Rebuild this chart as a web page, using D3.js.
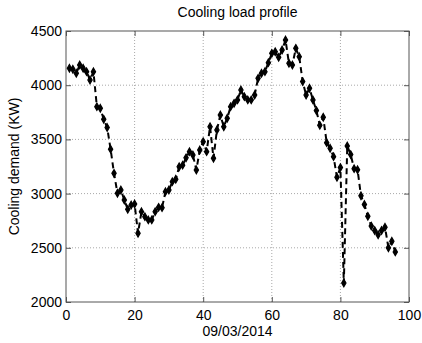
<!DOCTYPE html>
<html>
<head>
<meta charset="utf-8">
<script src="https://cdn.jsdelivr.net/npm/d3@7/dist/d3.min.js"></script>
<style>
  html, body { margin: 0; padding: 0; background: #fff; }
  svg { display: block; font-family: "Liberation Sans", Arial, sans-serif; }
</style>
</head>
<body>
<div id="chart"></div>
<script>
// Quarter-hour cooling demand samples (kW) for one day, index 1..96
const sampleIndex = d3.range(1, 97);
const coolingDemand = [
  4156, 4147, 4110, 4186, 4156, 4125, 4048, 4125, 3802, 3787,
  3685, 3610, 3410, 3187, 3003, 3033, 2941, 2855, 2895, 2904,
  2634, 2833, 2787, 2757, 2757, 2833, 2873, 2870, 3018, 3033,
  3110, 3132, 3248, 3262, 3330, 3387, 3356, 3218, 3402, 3479,
  3387, 3617, 3326, 3587, 3725, 3617, 3695, 3802, 3833, 3864,
  3956, 3894, 3864, 3864, 3910, 4063, 4110, 4125, 4208, 4294,
  4309, 4257, 4325, 4417, 4202, 4186, 4340, 4263, 4033, 3910,
  3972, 3864, 3766, 3630, 3704, 3470, 3418, 3341, 3150, 3240,
  2175, 3440, 3360, 3230, 3220, 2980, 2900, 2790, 2700, 2660,
  2620, 2660, 2690, 2500, 2560, 2462
];
const xTicks = [0, 20, 40, 60, 80, 100];
const yTicks = [2000, 2500, 3000, 3500, 4000, 4500];
const titleText = "Cooling load profile";
const xLabel = "09/03/2014";
const yLabel = "Cooling demand (KW)";

const W = 422, H = 343;
const m = { left: 66, right: 13, top: 31, bottom: 41 };
const iw = W - m.left - m.right, ih = H - m.top - m.bottom;

const svg = d3.select("#chart").append("svg").attr("width", W).attr("height", H);
const g = svg.append("g").attr("transform", `translate(${m.left},${m.top})`);

const x = d3.scaleLinear().domain([0, 100]).range([0, iw]);
const y = d3.scaleLinear().domain([2000, 4500]).range([ih, 0]);

// dotted grid
g.append("g").selectAll("line").data(xTicks.slice(1, -1)).join("line")
  .attr("x1", d => x(d)).attr("x2", d => x(d)).attr("y1", 0).attr("y2", ih)
  .attr("stroke", "#a8a8a8").attr("stroke-width", 1).attr("stroke-dasharray", "1,2");
g.append("g").selectAll("line").data(yTicks.slice(1, -1)).join("line")
  .attr("y1", d => y(d)).attr("y2", d => y(d)).attr("x1", 0).attr("x2", iw)
  .attr("stroke", "#a8a8a8").attr("stroke-width", 1).attr("stroke-dasharray", "1,2");

// axes with inward ticks on all four sides
const axisColor = "#555";
const fmt = d3.format("d");
function styleAxis(sel, showText) {
  sel.select(".domain").remove();
  sel.selectAll(".tick line").attr("stroke", axisColor);
  sel.selectAll(".tick text").attr("fill", "#000").style("font-size", "14px")
    .style("display", showText ? null : "none");
}
g.append("g").attr("transform", `translate(0,${ih})`)
  .call(d3.axisBottom(x).tickValues(xTicks).tickFormat(fmt).tickSize(-5).tickPadding(8))
  .call(s => styleAxis(s, true));
g.append("g")
  .call(d3.axisTop(x).tickValues(xTicks).tickSize(-5).tickFormat(""))
  .call(s => styleAxis(s, false));
g.append("g")
  .call(d3.axisLeft(y).tickValues(yTicks).tickFormat(fmt).tickSize(-5).tickPadding(4))
  .call(s => styleAxis(s, true));
g.append("g").attr("transform", `translate(${iw},0)`)
  .call(d3.axisRight(y).tickValues(yTicks).tickSize(-5).tickFormat(""))
  .call(s => styleAxis(s, false));

g.append("rect").attr("x", 0).attr("y", 0).attr("width", iw).attr("height", ih)
  .attr("fill", "none").attr("stroke", axisColor).attr("stroke-width", 1);

// demand series: dashed line with small diamond markers
const pts = sampleIndex.map((d, i) => [d, coolingDemand[i]]);
g.append("path").datum(pts)
  .attr("fill", "none").attr("stroke", "#000").attr("stroke-width", 2)
  .attr("stroke-dasharray", "6,4")
  .attr("d", d3.line().x(d => x(d[0])).y(d => y(d[1])));
g.append("g").selectAll("path").data(pts).join("path")
  .attr("transform", d => `translate(${x(d[0])},${y(d[1])})`)
  .attr("d", d3.symbol().type(d3.symbolDiamond).size(16))
  .attr("fill", "#000").attr("stroke", "#000").attr("stroke-width", 1.2);

// titles
svg.append("text").attr("x", m.left + iw / 2).attr("y", 17)
  .attr("text-anchor", "middle").style("font-size", "14px").text(titleText);
svg.append("text").attr("x", m.left + iw / 2).attr("y", 336)
  .attr("text-anchor", "middle").style("font-size", "14px").text(xLabel);
svg.append("text")
  .attr("transform", `translate(19,${m.top + ih / 2}) rotate(-90)`)
  .attr("text-anchor", "middle").style("font-size", "14px").text(yLabel);
</script>
</body>
</html>
